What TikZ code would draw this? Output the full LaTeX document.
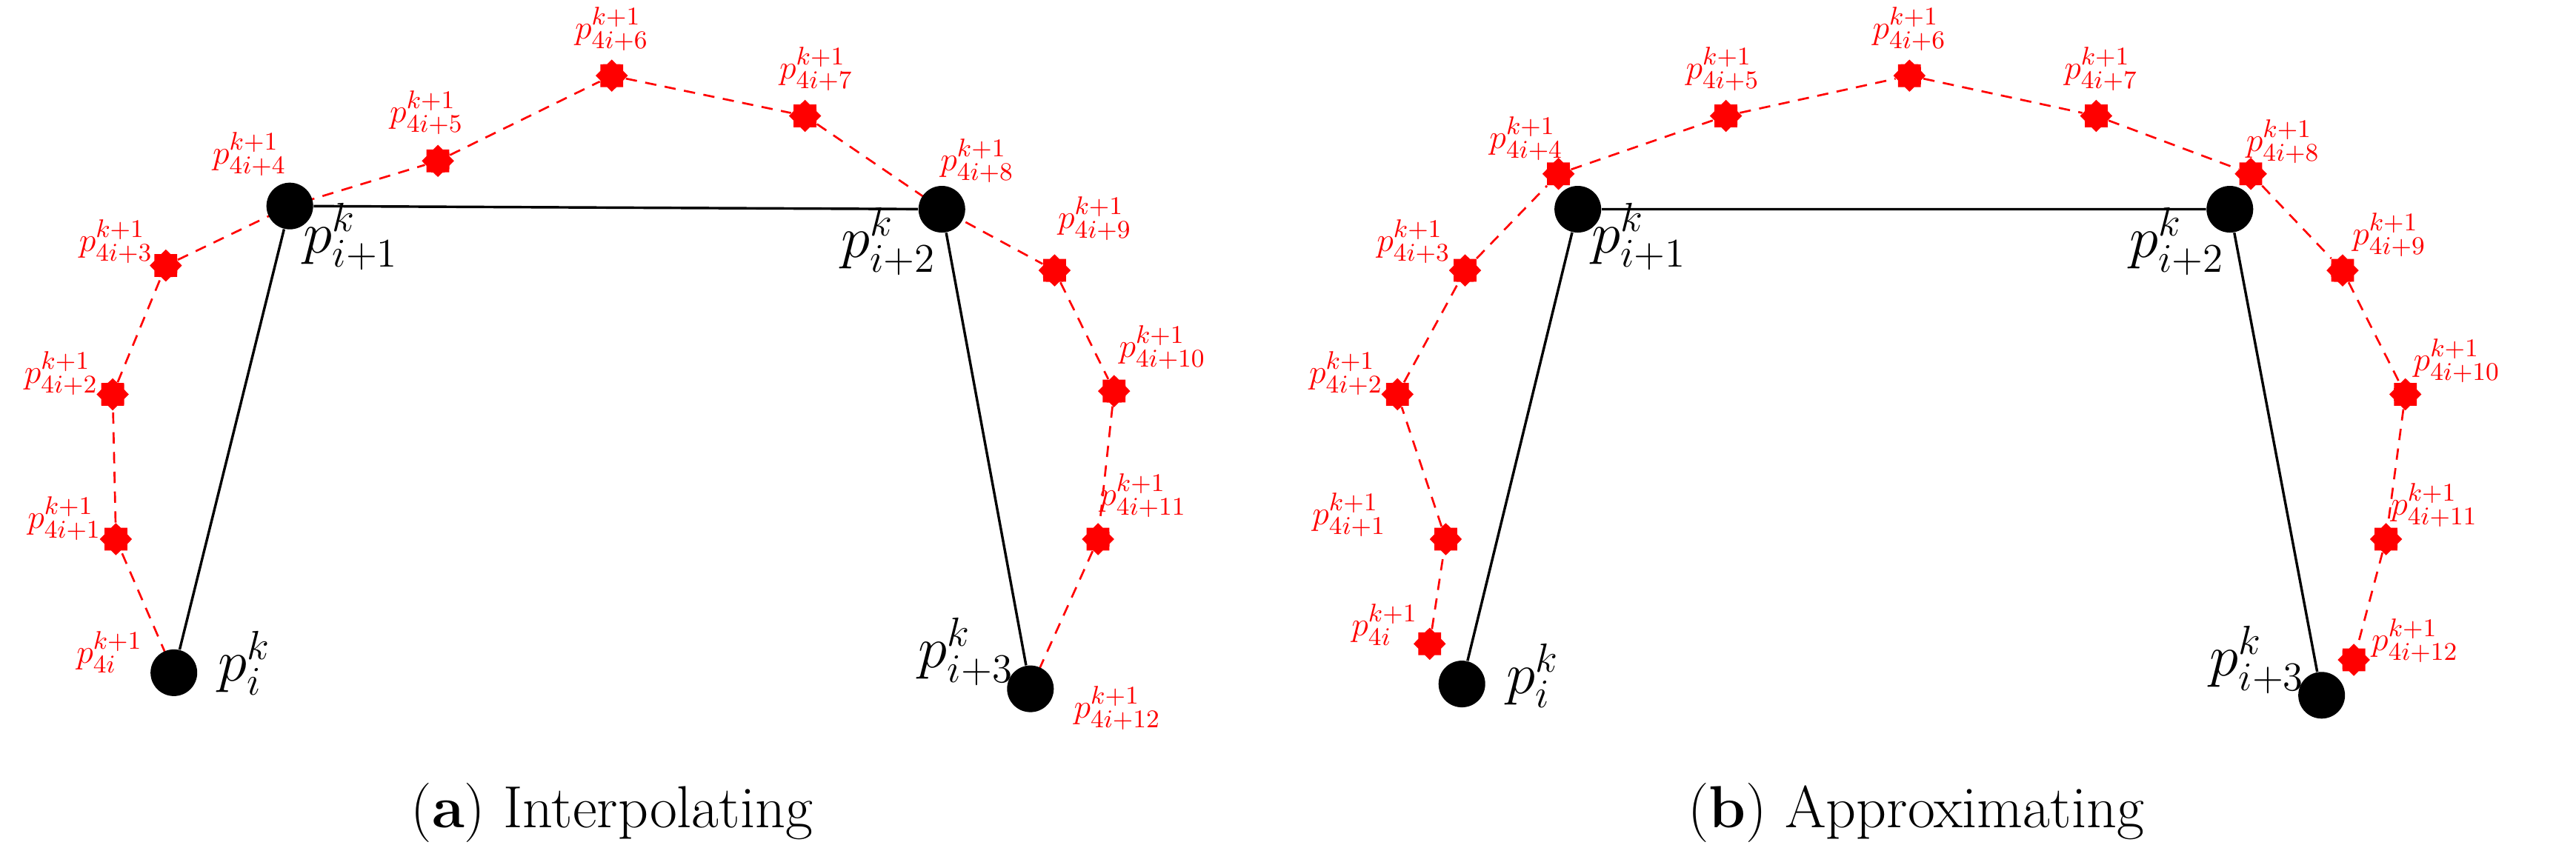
\documentclass[tikz,border=0pt]{standalone}
\usetikzlibrary{shapes.geometric}
\begin{document}
\begin{tikzpicture}[x=0.02cm,y=-0.02cm,
  blk/.style={circle,fill=black,inner sep=0pt,minimum size=29*0.02cm},
  st/.style={star,star points=8,star point ratio=1.3,fill=red,inner sep=0pt,minimum size=20*0.02cm},
  rl/.style={text=red,font=\fontsize{12.5}{12.5}\selectfont,inner sep=0pt},
  bl/.style={font=\fontsize{22}{22}\selectfont,inner sep=0pt},
  rd/.style={red,dashed,line width=0.7pt,dash pattern=on 4pt off 3pt},
  captext/.style={font=\fontsize{21}{21}\selectfont}]
\useasboundingbox (0,0) rectangle (1600,525);
% ---------- panel a ----------
\coordinate (a0) at (108,418);
\node[st] (a1) at (72,335) {};
\node[st] (a2) at (70,245) {};
\node[st] (a3) at (103,165) {};
\coordinate (a4) at (180,128);
\node[st] (a5) at (272,100) {};
\node[st] (a6) at (380,47) {};
\node[st] (a7) at (500,72) {};
\coordinate (a8) at (585,130);
\node[st] (a9) at (655,168) {};
\node[st] (a10) at (692,243) {};
\node[st] (a11) at (682,335) {};
\coordinate (a12) at (640,428);
\draw[rd] (a0)--(a1)--(a2)--(a3)--(a4)--(a5)--(a6)--(a7)--(a8)--(a9)--(a10)--(a11)--(a12);
\node[blk] (A0) at (a0) {};
\node[blk] (A1) at (a4) {};
\node[blk] (A2) at (a8) {};
\node[blk] (A3) at (a12) {};
\draw[line width=0.9pt] (A0)--(A1)--(A2)--(A3);
\node[bl] at (152,412) {$p_i^k$};
\node[bl] at (218,147) {$p_{i+1}^k$};
\node[bl] at (552,150) {$p_{i+2}^k$};
\node[bl] at (600,405) {$p_{i+3}^k$};
\node[rl] at (68,405) {$p_{4i}^{k+1}$};
\node[rl] at (40,322) {$p_{4i+1}^{k+1}$};
\node[rl] at (38,232) {$p_{4i+2}^{k+1}$};
\node[rl] at (72,150) {$p_{4i+3}^{k+1}$};
\node[rl] at (155,96) {$p_{4i+4}^{k+1}$};
\node[rl] at (265,70) {$p_{4i+5}^{k+1}$};
\node[rl] at (380,18) {$p_{4i+6}^{k+1}$};
\node[rl] at (507,43) {$p_{4i+7}^{k+1}$};
\node[rl] at (607,100) {$p_{4i+8}^{k+1}$};
\node[rl] at (680,136) {$p_{4i+9}^{k+1}$};
\node[rl] at (722,216) {$p_{4i+10}^{k+1}$};
\node[rl] at (710,308) {$p_{4i+11}^{k+1}$};
\node[rl] at (694,440) {$p_{4i+12}^{k+1}$};
\node[captext] at (380,505) {(\textbf{a}) Interpolating};
% ---------- panel b ----------
\node[st] (b0) at (888,400) {};
\node[st] (b1) at (898,335) {};
\node[st] (b2) at (868,245) {};
\node[st] (b3) at (910,168) {};
\node[st] (b4) at (968,108) {};
\node[st] (b5) at (1072,72) {};
\node[st] (b6) at (1186,47) {};
\node[st] (b7) at (1302,72) {};
\node[st] (b8) at (1398,108) {};
\node[st] (b9) at (1455,168) {};
\node[st] (b10) at (1494,245) {};
\node[st] (b11) at (1482,335) {};
\node[st] (b12) at (1462,410) {};
\draw[rd] (b0)--(b1)--(b2)--(b3)--(b4)--(b5)--(b6)--(b7)--(b8)--(b9)--(b10)--(b11)--(b12);
\node[blk] (B0) at (908,425) {};
\node[blk] (B1) at (980,130) {};
\node[blk] (B2) at (1385,130) {};
\node[blk] (B3) at (1442,432) {};
\draw[line width=0.9pt] (B0)--(B1)--(B2)--(B3);
\node[bl] at (952,420) {$p_i^k$};
\node[bl] at (1018,147) {$p_{i+1}^k$};
\node[bl] at (1352,150) {$p_{i+2}^k$};
\node[bl] at (1402,410) {$p_{i+3}^k$};
\node[rl] at (860,388) {$p_{4i}^{k+1}$};
\node[rl] at (838,320) {$p_{4i+1}^{k+1}$};
\node[rl] at (836,232) {$p_{4i+2}^{k+1}$};
\node[rl] at (878,150) {$p_{4i+3}^{k+1}$};
\node[rl] at (948,86) {$p_{4i+4}^{k+1}$};
\node[rl] at (1070,43) {$p_{4i+5}^{k+1}$};
\node[rl] at (1186,18) {$p_{4i+6}^{k+1}$};
\node[rl] at (1305,43) {$p_{4i+7}^{k+1}$};
\node[rl] at (1418,88) {$p_{4i+8}^{k+1}$};
\node[rl] at (1484,146) {$p_{4i+9}^{k+1}$};
\node[rl] at (1526,224) {$p_{4i+10}^{k+1}$};
\node[rl] at (1512,314) {$p_{4i+11}^{k+1}$};
\node[rl] at (1500,398) {$p_{4i+12}^{k+1}$};
\node[captext] at (1190,505) {(\textbf{b}) Approximating};
\end{tikzpicture}
\end{document}
